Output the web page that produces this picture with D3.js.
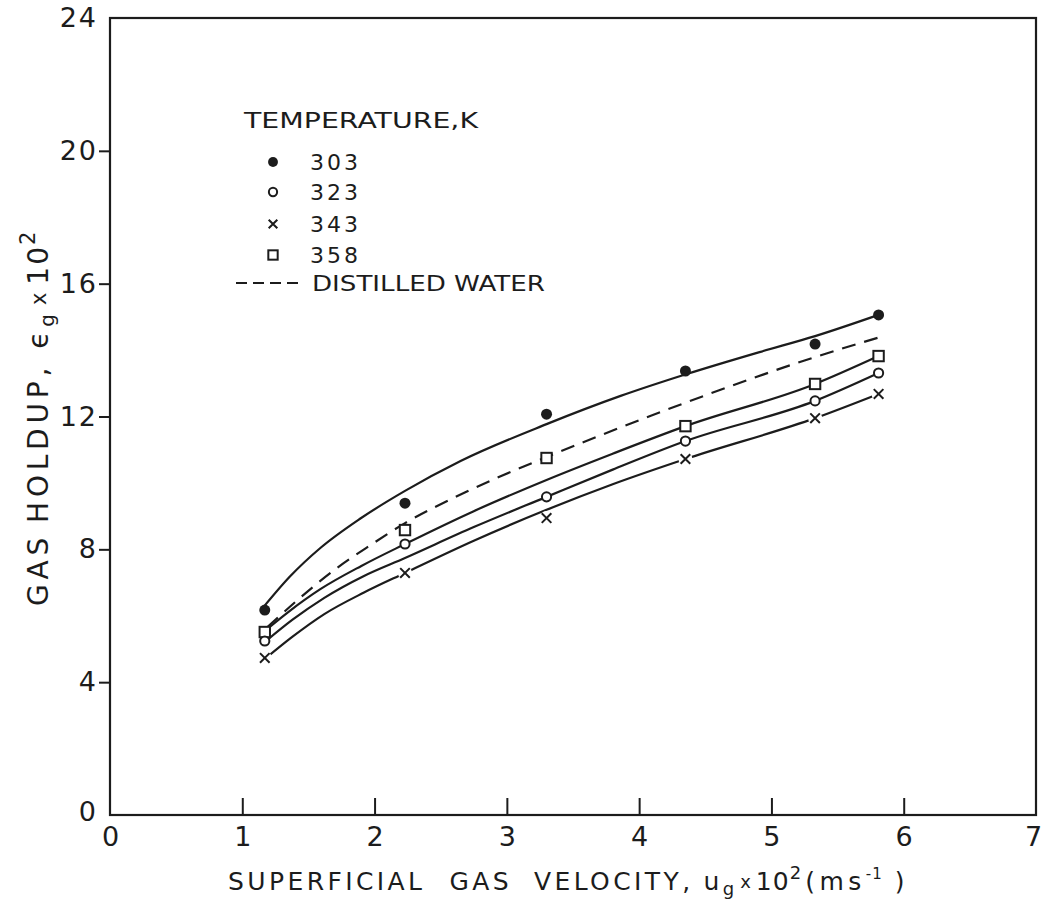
<!DOCTYPE html>
<html>
<head>
<meta charset="utf-8">
<script src="https://cdn.jsdelivr.net/npm/d3@7"></script>
<style>
  html, body { margin: 0; padding: 0; background: #fff; }
  svg text { font-family: "DejaVu Sans", "Liberation Sans", sans-serif; fill: #1c1c1c; }
</style>
</head>
<body>
<svg id="chart" width="1047" height="903"></svg>
<script>
// Measured gas hold-up (εg x 10^2) against superficial gas velocity (ug x 10^2, m/s)
const velocity = [1.17, 2.23, 3.30, 4.35, 5.33, 5.81];
const holdup303 = [6.17, 9.39, 12.07, 13.37, 14.18, 15.06];
const holdup323 = [5.24, 8.16, 9.58, 11.26, 12.47, 13.31];
const holdup343 = [4.73, 7.29, 8.94, 10.72, 11.95, 12.68];
const holdup358 = [5.51, 8.58, 10.75, 11.71, 12.98, 13.82];

// Correlation curves, sampled along each drawn line
const curveU303 = [1.16, 1.36, 1.59, 1.89, 2.23, 2.65, 3.30, 3.86, 4.36, 4.91, 5.33, 5.81];
const curveE303 = [6.26, 7.18, 8.04, 8.92, 9.76, 10.66, 11.77, 12.62, 13.28, 13.94, 14.42, 15.06];
const curveUWater = [1.19, 1.44, 1.72, 1.97, 2.23, 2.65, 3.30, 3.70, 4.36, 5.33, 5.82];
const curveEWater = [5.66, 6.55, 7.45, 8.13, 8.79, 9.65, 10.78, 11.42, 12.43, 13.79, 14.39];
const curveU358 = [1.16, 1.35, 1.59, 1.90, 2.23, 2.75, 3.30, 3.80, 4.35, 5.33, 5.81];
const curveE358 = [5.51, 6.12, 6.80, 7.50, 8.16, 9.15, 10.09, 10.88, 11.71, 12.98, 13.82];
const curveU323 = [1.18, 1.38, 1.62, 1.92, 2.23, 2.75, 3.30, 3.80, 4.35, 5.33, 5.81];
const curveE323 = [5.24, 5.88, 6.54, 7.20, 7.74, 8.67, 9.58, 10.40, 11.26, 12.47, 13.31];
const curveU343 = [1.18, 1.38, 1.62, 1.92, 2.23, 2.75, 3.30, 3.80, 4.35, 5.33, 5.81];
const curveE343 = [4.73, 5.37, 6.05, 6.70, 7.29, 8.26, 9.19, 9.96, 10.72, 11.95, 12.68];

const xTicks = [0, 1, 2, 3, 4, 5, 6, 7];
const yTicks = [0, 4, 8, 12, 16, 20, 24];
const legendTitle = "TEMPERATURE,K";
const legendLabels = ["303", "323", "343", "358"];
const waterLabel = "DISTILLED WATER";

const ink = "#1c1c1c";
const svg = d3.select("#chart");

const x = d3.scaleLinear().domain([0, 7]).range([110, 1036]);
const y = d3.scaleLinear().domain([0, 24]).range([815, 18]);

// Frame
svg.append("rect")
  .attr("x", x(0)).attr("y", y(24))
  .attr("width", x(7) - x(0)).attr("height", y(0) - y(24))
  .attr("fill", "none").attr("stroke", ink).attr("stroke-width", 2.2);

// X axis: ticks point into the plot
const xAxis = svg.append("g")
  .attr("transform", `translate(0,${y(0)})`)
  .call(d3.axisBottom(x).tickValues(xTicks).tickFormat(d3.format("d"))
    .tickSizeInner(-17).tickSizeOuter(0));
xAxis.select(".domain").remove();
xAxis.selectAll(".tick line").attr("stroke", ink).attr("stroke-width", 2);
xAxis.selectAll(".tick line").filter(d => d === 0 || d === 7).remove();
xAxis.selectAll(".tick text")
  .attr("font-size", 27).attr("font-family", "DejaVu Sans").attr("fill", ink)
  .attr("y", 12).attr("dy", "0.71em")
  .attr("dx", d => d === 7 ? -3 : 0);

// Y axis: ticks point outward
const yAxis = svg.append("g")
  .attr("transform", `translate(${x(0)},0)`)
  .call(d3.axisLeft(y).tickValues(yTicks).tickSizeInner(11).tickSizeOuter(0));
yAxis.select(".domain").remove();
yAxis.selectAll(".tick line").attr("stroke", ink).attr("stroke-width", 2);
yAxis.selectAll(".tick line").filter(d => d === 0 || d === 24).remove();
yAxis.selectAll(".tick text")
  .attr("font-size", 27).attr("font-family", "DejaVu Sans").attr("fill", ink)
  .attr("letter-spacing", 2).attr("x", -12)
  .attr("dy", d => d === 0 ? "0.2em" : "0.32em");

// Curves
const line = d3.line().x(d => x(d[0])).y(d => y(d[1])).curve(d3.curveMonotoneX);
const curves = [
  { u: curveU303, e: curveE303, dash: null },
  { u: curveUWater, e: curveEWater, dash: "14,9" },
  { u: curveU358, e: curveE358, dash: null },
  { u: curveU323, e: curveE323, dash: null },
  { u: curveU343, e: curveE343, dash: null }
];
curves.forEach(c => {
  svg.append("path")
    .datum(d3.zip(c.u, c.e))
    .attr("d", line)
    .attr("fill", "none")
    .attr("stroke", ink)
    .attr("stroke-width", 2.2)
    .attr("stroke-dasharray", c.dash);
});

// Marker drawing helpers
function drawMarker(g, kind, cx, cy, s) {
  if (kind === "filled") {
    g.append("circle").attr("cx", cx).attr("cy", cy).attr("r", 5.5 * s).attr("fill", ink);
  } else if (kind === "circle") {
    g.append("circle").attr("cx", cx).attr("cy", cy).attr("r", 4.6 * s)
      .attr("fill", "#fff").attr("stroke", ink).attr("stroke-width", 2);
  } else if (kind === "square") {
    const h = 5.2 * s;
    g.append("rect").attr("x", cx - h).attr("y", cy - h).attr("width", 2 * h).attr("height", 2 * h)
      .attr("fill", "#fff").attr("stroke", ink).attr("stroke-width", 2);
  } else if (kind === "cross") {
    const h = 4.8 * s;
    g.append("circle").attr("cx", cx).attr("cy", cy).attr("r", 7 * s).attr("fill", "#fff");
    g.append("path")
      .attr("d", `M${cx - h},${cy - h}L${cx + h},${cy + h}M${cx - h},${cy + h}L${cx + h},${cy - h}`)
      .attr("stroke", ink).attr("stroke-width", 2).attr("fill", "none");
  }
}

const series = [
  { vals: holdup358, kind: "square" },
  { vals: holdup323, kind: "circle" },
  { vals: holdup343, kind: "cross" },
  { vals: holdup303, kind: "filled" }
];
const pts = svg.append("g");
series.forEach(s => {
  s.vals.forEach((v, i) => drawMarker(pts, s.kind, x(velocity[i]), y(v), 1));
});

// Legend
const lg = svg.append("g");
lg.append("text").attr("x", 244).attr("y", 128).attr("font-size", 22)
  .attr("textLength", 234).attr("lengthAdjust", "spacingAndGlyphs").text(legendTitle);
const legendKinds = ["filled", "circle", "cross", "square"];
const legendY = [162, 192, 224, 255];
legendLabels.forEach((lab, i) => {
  drawMarker(lg, legendKinds[i], 273, legendY[i], 0.9);
  lg.append("text").attr("x", 310).attr("y", legendY[i] + 8).attr("font-size", 22)
    .attr("letter-spacing", 3).text(lab);
});
lg.append("line").attr("x1", 236).attr("x2", 302).attr("y1", 283).attr("y2", 283)
  .attr("stroke", ink).attr("stroke-width", 2.2).attr("stroke-dasharray", "11,6");
lg.append("text").attr("x", 312).attr("y", 291).attr("font-size", 22)
  .attr("textLength", 233).attr("lengthAdjust", "spacingAndGlyphs").text(waterLabel);

// X axis title
const xt = svg.append("text").attr("x", 228).attr("y", 890).attr("font-size", 25)
  .attr("letter-spacing", 3.4);
xt.append("tspan").text("SUPERFICIAL");
xt.append("tspan").attr("dx", 24).text("GAS");
xt.append("tspan").attr("dx", 22).text("VELOCITY,");
xt.append("tspan").attr("dx", 10).text("u");
xt.append("tspan").attr("font-size", 18).attr("dy", 5).attr("letter-spacing", 0).text("g");
xt.append("tspan").attr("font-size", 18).attr("dy", -7).attr("dx", 6).attr("letter-spacing", 0).text("x");
xt.append("tspan").attr("dy", 2).attr("dx", 5).attr("letter-spacing", 1).text("10");
xt.append("tspan").attr("font-size", 18).attr("dy", -11).attr("letter-spacing", 0).text("2");
xt.append("tspan").attr("dy", 11).attr("dx", 4).attr("letter-spacing", 4.5).text("(ms");
xt.append("tspan").attr("font-size", 15).attr("dy", -11).attr("letter-spacing", 1).text("-1");
xt.append("tspan").attr("dy", 11).attr("dx", 12).text(")");

// Y axis title
const yt = svg.append("text").attr("transform", "translate(48,606) rotate(-90)")
  .attr("font-size", 28).attr("letter-spacing", 4.8);
yt.append("tspan").text("GAS");
yt.append("tspan").attr("dx", 10).text("HOLDUP,");
yt.append("tspan").attr("dx", 14).text("ϵ");
yt.append("tspan").attr("font-size", 20).attr("dy", 6).attr("letter-spacing", 0).text("g");
yt.append("tspan").attr("font-size", 21).attr("dy", -8).attr("dx", 9).attr("letter-spacing", 0).text("x");
yt.append("tspan").attr("dy", 2).attr("dx", 8).attr("letter-spacing", 2).text("10");
yt.append("tspan").attr("font-size", 21).attr("dy", -13).attr("letter-spacing", 0).text("2");
</script>
</body>
</html>
